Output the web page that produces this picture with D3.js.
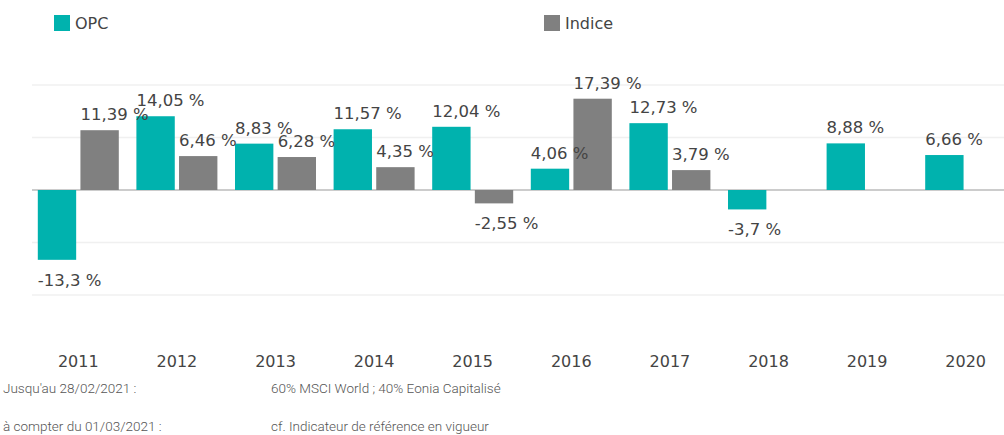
<!DOCTYPE html>
<html>
<head>
<meta charset="utf-8">
<script src="https://cdn.jsdelivr.net/npm/d3@7"></script>
<style>
  body { margin: 0; background: #fff; }
  svg { display: block; }
</style>
</head>
<body>
<div id="chart"></div>
<script>
// data
const years = ["2011", "2012", "2013", "2014", "2015", "2016", "2017", "2018", "2019", "2020"];
const opcValues = [-13.3, 14.05, 8.83, 11.57, 12.04, 4.06, 12.73, -3.7, 8.88, 6.66];
const indiceValues = [11.39, 6.46, 6.28, 4.35, -2.55, 17.39, 3.79, null, null, null];
const seriesNames = ["OPC", "Indice"];
const gridTicks = [-20, -10, 0, 10, 20];
const footerRows = [
    ["Jusqu'au 28/02/2021 :", "60% MSCI World ; 40% Eonia Capitalisé"],
    ["à compter du 01/03/2021 :", "cf. Indicateur de référence en vigueur"]
];

const colors = { OPC: "#00b2ae", Indice: "#808080" };
const width = 1004, height = 435;

const svg = d3.select("#chart").append("svg")
    .attr("width", width)
    .attr("height", height)
    .style("font-family", "'DejaVu Sans', sans-serif");

// scales
const x = d3.scaleBand()
    .domain(years)
    .range([29, 1015])
    .padding(0);

const xInner = d3.scaleBand()
    .domain(seriesNames)
    .range([-40.5, 40.5])
    .paddingInner(0.1);

const y = d3.scaleLinear()
    .domain([-20, 20])
    .range([295, 85]);

// grid lines
svg.append("g")
    .selectAll("line")
    .data(gridTicks)
    .enter().append("line")
    .attr("x1", 32)
    .attr("x2", width)
    .attr("y1", d => y(d))
    .attr("y2", d => y(d))
    .attr("stroke", d => d === 0 ? "#cccccc" : "#f0f0f0")
    .attr("stroke-width", d => d === 0 ? 2 : 1.5);

// flatten data for bars
let rows = [];
years.forEach((yr, i) => {
    rows.push({ year: yr, key: "OPC", value: opcValues[i] });
    if (indiceValues[i] !== null) rows.push({ year: yr, key: "Indice", value: indiceValues[i] });
});

const barX = d => x(d.year) + x.bandwidth() / 2 + xInner(d.key);

svg.append("g")
    .selectAll("rect")
    .data(rows)
    .enter().append("rect")
    .attr("x", barX)
    .attr("width", xInner.bandwidth())
    .attr("y", d => y(Math.max(0, d.value)))
    .attr("height", d => Math.abs(y(d.value) - y(0)))
    .attr("fill", d => colors[d.key]);

// value labels drawn on top of all bars
svg.append("g")
    .selectAll("text")
    .data(rows)
    .enter().append("text")
    .attr("x", barX)
    .attr("y", d => d.value >= 0 ? y(d.value) - 10 : y(d.value) + 26)
    .style("font-size", "16.5px")
    .style("fill", "#444")
    .text(d => String(d.value).replace(".", ",") + " %");

// x axis labels
svg.append("g")
    .selectAll("text")
    .data(years)
    .enter().append("text")
    .attr("x", d => x(d) + x.bandwidth() / 2)
    .attr("y", 367)
    .attr("text-anchor", "middle")
    .style("font-size", "16px")
    .style("fill", "#444")
    .text(d => d);

// legend
const legendX = { OPC: 54, Indice: 544 };
const legend = svg.append("g")
    .selectAll("g")
    .data(seriesNames)
    .enter().append("g")
    .attr("transform", d => "translate(" + legendX[d] + ",15)");

legend.append("rect")
    .attr("width", 16)
    .attr("height", 16)
    .attr("fill", d => colors[d]);

legend.append("text")
    .attr("x", 21)
    .attr("y", 14)
    .style("font-size", "16px")
    .style("fill", "#444")
    .text(d => d);

// footer
const footer = svg.append("g")
    .selectAll("g")
    .data(footerRows)
    .enter().append("g")
    .attr("transform", (d, i) => "translate(0," + (393 + i * 38) + ")")
    .style("font-family", "Roboto, 'Liberation Sans', sans-serif")
    .style("font-weight", 300)
    .style("font-size", "13.5px")
    .style("fill", "#555");

footer.append("text")
    .attr("x", 3)
    .text(d => d[0]);

footer.append("text")
    .attr("x", 271)
    .text(d => d[1]);
</script>
</body>
</html>
